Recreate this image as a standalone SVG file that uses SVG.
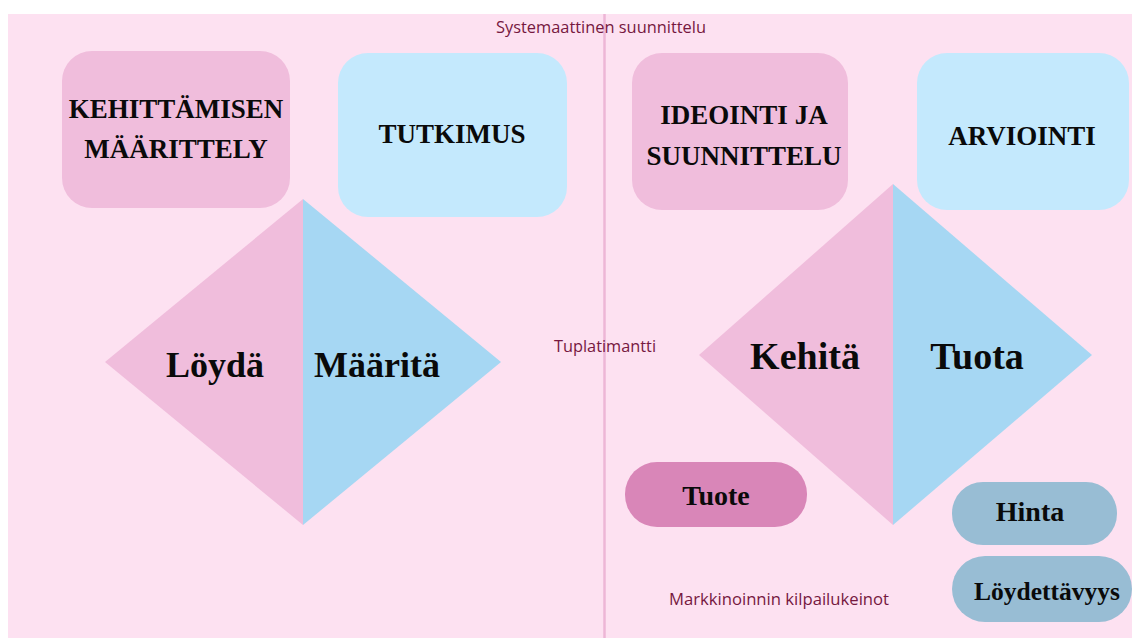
<svg xmlns="http://www.w3.org/2000/svg" width="1132" height="638" viewBox="0 0 1132 638">
  <style>
    .bg { fill: #FDE1F1; }
    .pinkbox { fill: #F0BDDC; }
    .bluebox { fill: #C4E9FD; }
    .tri-pink { fill: #F0BDDC; }
    .tri-blue { fill: #A6D7F3; }
    .pill-pink { fill: #D986B8; }
    .pill-blue { fill: #98BDD4; }
    .title { font-family: "Liberation Serif", "DejaVu Serif", serif; font-weight: bold; fill: #0A0A0A; text-anchor: middle; }
    .small { font-family: "Open Sans", "Liberation Sans", sans-serif; font-size: 16px; fill: #76183F; text-anchor: middle; }
  </style>
  <rect width="1132" height="638" fill="#FFFFFF"/>
  <rect class="bg" x="8" y="14" width="1124" height="624"/>
  <g id="divider">
    <line x1="604.5" y1="14" x2="604.5" y2="638" stroke="#EDB6D6" stroke-width="2.5"/>
  </g>
  <g id="labels">
    <text class="small" x="601" y="33" textLength="210" lengthAdjust="spacingAndGlyphs">Systemaattinen suunnittelu</text>
    <text class="small" x="605" y="352" textLength="102" lengthAdjust="spacingAndGlyphs">Tuplatimantti</text>
    <text class="small" x="779" y="605" textLength="220" lengthAdjust="spacingAndGlyphs">Markkinoinnin kilpailukeinot</text>
  </g>
  <g id="connectors"></g>
  <g id="kehittamisen">
    <rect class="pinkbox" x="62" y="51" width="228" height="157" rx="30"/>
    <text class="title" font-size="27" x="176" y="118">KEHITTÄMISEN</text>
    <text class="title" font-size="27" x="176" y="158">MÄÄRITTELY</text>
  </g>
  <g id="tutkimus">
    <rect class="bluebox" x="338" y="53" width="229" height="164" rx="30"/>
    <text class="title" font-size="27" x="452" y="143">TUTKIMUS</text>
  </g>
  <g id="ideointi">
    <rect class="pinkbox" x="632" y="53" width="216" height="157" rx="30"/>
    <text class="title" font-size="27" x="744" y="124">IDEOINTI JA</text>
    <text class="title" font-size="27" x="744" y="165">SUUNNITTELU</text>
  </g>
  <g id="arviointi">
    <rect class="bluebox" x="917" y="53" width="212" height="157" rx="30"/>
    <text class="title" font-size="27" x="1022" y="145">ARVIOINTI</text>
  </g>
  <g id="diamond-left">
    <polygon class="tri-pink" points="303,199 105,362 303,525"/>
    <polygon class="tri-blue" points="303,199 501,362 303,525"/>
    <text class="title" font-size="36" x="215" y="377">Löydä</text>
    <text class="title" font-size="36" x="377" y="377">Määritä</text>
  </g>
  <g id="diamond-right">
    <polygon class="tri-pink" points="893,184 699,355 893,525"/>
    <polygon class="tri-blue" points="893,184 1092,355 893,525"/>
    <text class="title" font-size="38" x="805" y="369">Kehitä</text>
    <text class="title" font-size="38" x="977" y="369">Tuota</text>
  </g>
  <g id="tuote">
    <rect class="pill-pink" x="625" y="462" width="182" height="65" rx="32"/>
    <text class="title" font-size="28" x="716" y="505">Tuote</text>
  </g>
  <g id="hinta">
    <rect class="pill-blue" x="952" y="482" width="165" height="63" rx="31"/>
    <text class="title" font-size="28" x="1030" y="521">Hinta</text>
  </g>
  <g id="loydettavyys">
    <rect class="pill-blue" x="952" y="556" width="180" height="66" rx="33"/>
    <text class="title" font-size="25.5" x="1047" y="600">Löydettävyys</text>
  </g>
</svg>
